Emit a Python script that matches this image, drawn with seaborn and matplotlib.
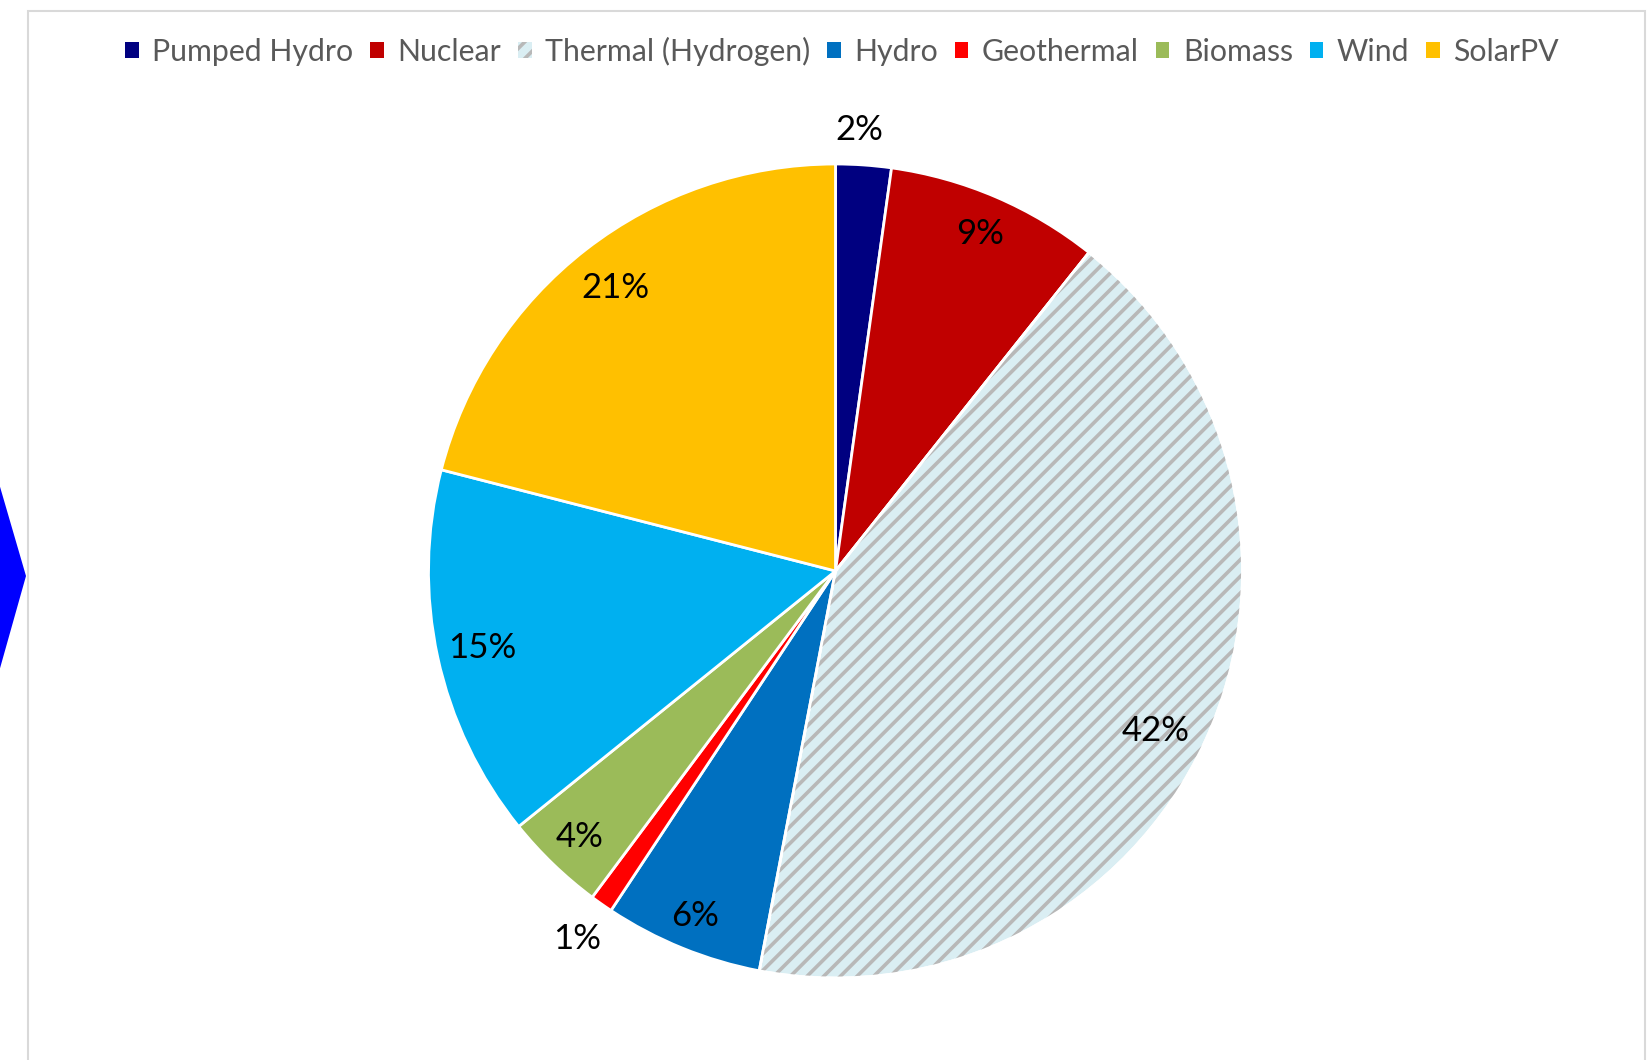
import matplotlib
matplotlib.use("Agg")
import matplotlib.pyplot as plt
import matplotlib.patches as mpatches
import seaborn as sns
import numpy as np

# generation mix shares (%)
sources = ["Pumped Hydro", "Nuclear", "Thermal (Hydrogen)", "Hydro",
           "Geothermal", "Biomass", "Wind", "SolarPV"]
shares = [2.2, 8.5, 42.3, 6.3, 0.9, 4.0, 14.8, 21.0]
pct_labels = ["2%", "9%", "42%", "6%", "1%", "4%", "15%", "21%"]
colors = ["#000080", "#C00000", "#DAEEF3", "#0070C0",
          "#FF0000", "#9BBB59", "#00B0F0", "#FFC000"]
# radial position of each label (fraction of radius) and small angle nudges (deg)
label_dist = [1.085, 0.90, 0.88, 0.915, 1.105, 0.907, 0.888, 0.881]
label_nudge = [0.9, 0, -1.8, 0, 0, 0, 0, 0]

sns.set_theme(style="white")
plt.rcParams['font.family'] = ['Lato', 'DejaVu Sans']
plt.rcParams['hatch.linewidth'] = 2.6

W, H = 1652, 1060
fig = plt.figure(figsize=(W / 100, H / 100), dpi=100)
fig.patch.set_facecolor("white")

# chart frame and the bit of arrow from the neighbouring drawing
fig.add_artist(mpatches.Rectangle((28 / W, -0.05), (1645 - 28) / W, 1.05 - 11 / H,
                                  transform=fig.transFigure, fill=False,
                                  edgecolor="#d9d9d9", linewidth=1.5))
fig.add_artist(mpatches.Polygon([(-0.01, 1 - 430 / H), (26 / W, 1 - 576 / H), (-0.01, 1 - 727 / H)],
                                closed=True, transform=fig.transFigure,
                                facecolor="#0000FF", edgecolor="none"))

cx, cy, r = 835.5, 571, 407
ax = fig.add_axes([(cx - r) / W, (H - cy - r) / H, 2 * r / W, 2 * r / H])
wedges, _ = ax.pie(shares, colors=colors, startangle=90, counterclock=False, radius=1,
                   wedgeprops=dict(edgecolor="white", linewidth=2))

# hatched overlay for thermal
th = wedges[2]
ax.add_patch(mpatches.Wedge(th.center, th.r, th.theta1, th.theta2, facecolor="none",
                            edgecolor="#b8b8b8", hatch="//", linewidth=0))
ax.add_patch(mpatches.Wedge(th.center, th.r, th.theta1, th.theta2, fill=False,
                            edgecolor="white", linewidth=2))

for w, lab, d, nd in zip(wedges, pct_labels, label_dist, label_nudge):
    ang = np.deg2rad((w.theta1 + w.theta2) / 2 + nd)
    ax.text(d * np.cos(ang), d * np.sin(ang), lab, ha="center", va="center",
            fontsize=25, color="black")

ax.set_xlim(-1, 1)
ax.set_ylim(-1, 1)
ax.axis("off")

handles = [mpatches.Patch(facecolor=c, edgecolor="none") for c in colors]
handles[2] = mpatches.Patch(facecolor=colors[2], edgecolor="#b8b8b8", hatch="//", linewidth=0)
fig.legend(handles, sources, loc="center", bbox_to_anchor=(842 / W, 1 - 51.5 / H),
           ncol=8, frameon=False, fontsize=21.8, handlelength=0.45, handleheight=0.45,
           handletextpad=0.45, columnspacing=0.55, labelcolor="#595959")

fig.savefig("out.png", dpi=100)
